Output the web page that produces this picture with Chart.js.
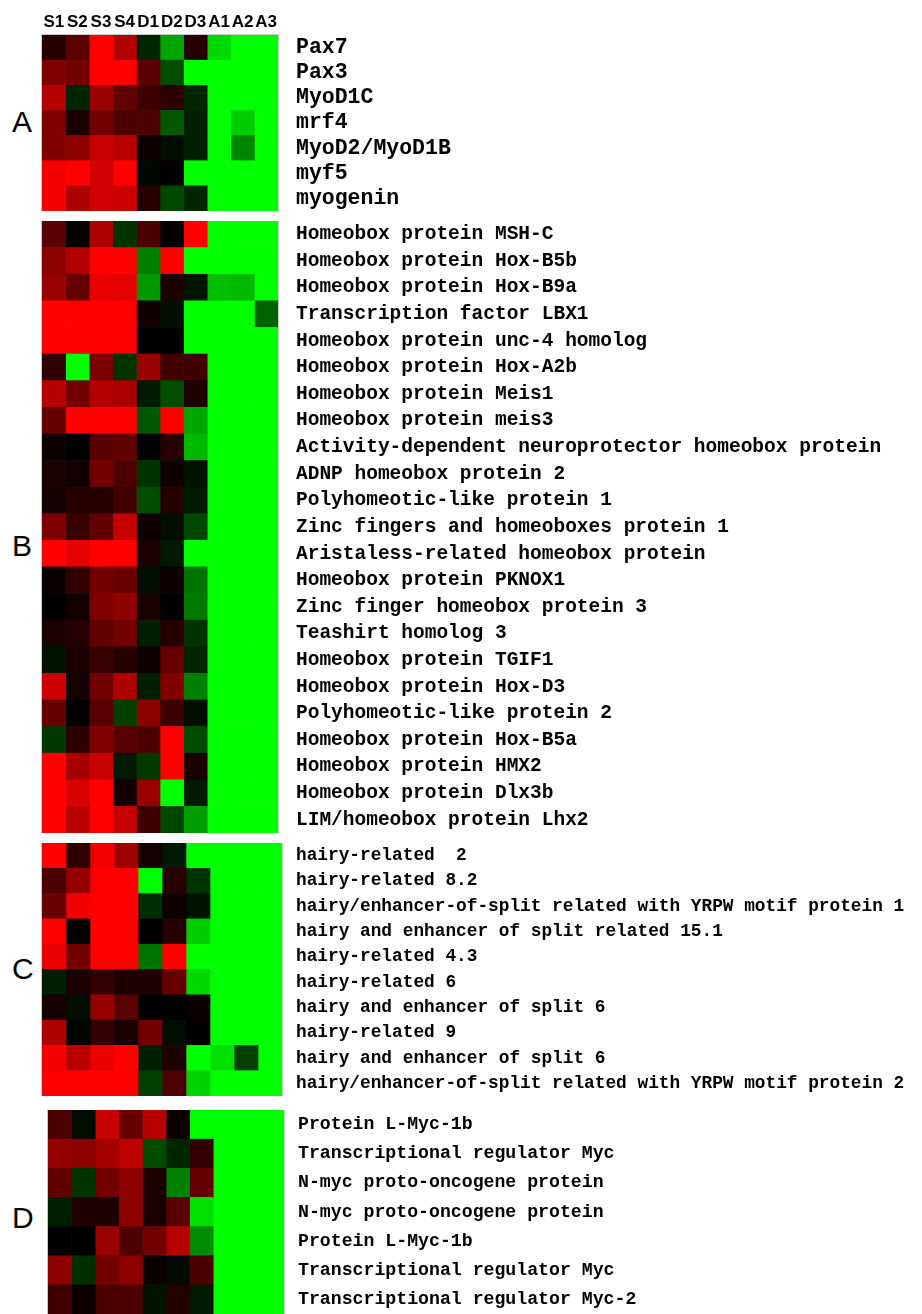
<!DOCTYPE html>
<html>
<head>
<meta charset="utf-8">
<script src="https://cdn.jsdelivr.net/npm/chart.js@4.4.1/dist/chart.umd.min.js"></script>
<style>
  body { margin: 0; background: #fff; width: 922px; height: 1314px; position: relative; overflow: hidden; }
  canvas { position: absolute; }
  .letter { position: absolute; left: 12px; font: 30px "Liberation Sans", Arial, sans-serif; line-height: 1; color: #000; }
</style>
</head>
<body>
<canvas id="panelA"></canvas>
<canvas id="panelB"></canvas>
<canvas id="panelC"></canvas>
<canvas id="panelD"></canvas>
<div class="letter" style="top:107px">A</div>
<div class="letter" style="top:531px">B</div>
<div class="letter" style="top:954px">C</div>
<div class="letter" style="top:1203px">D</div>

<script>
// columns of the heatmap
const columns = ["S1", "S2", "S3", "S4", "D1", "D2", "D3", "A1", "A2", "A3"];

// values: + = red (up), - = green (down), 0 = black
const genesA = ["Pax7", "Pax3", "MyoD1C", "mrf4", "MyoD2/MyoD1B", "myf5", "myogenin"];
const valuesA = [
  [0.15, 0.35, 1.0, 0.7, -0.15, -0.65, 0.15, -0.85, -1, -1],
  [0.5, 0.45, 1.0, 1.0, 0.35, -0.3, -1, -1, -1, -1],
  [0.7, -0.15, 0.6, 0.38, 0.25, 0.18, -0.15, -1, -1, -1],
  [0.5, 0.1, 0.45, 0.3, 0.3, -0.35, -0.12, -1, -0.8, -1],
  [0.5, 0.55, 0.78, 0.72, 0.05, -0.05, -0.12, -1, -0.52, -1],
  [0.95, 1.0, 0.82, 1.0, -0.03, 0.02, -1, -1, -1, -1],
  [0.95, 0.68, 0.82, 0.8, 0.15, -0.28, -0.15, -1, -1, -1]
];

const genesB = [
  "Homeobox protein MSH-C",
  "Homeobox protein Hox-B5b",
  "Homeobox protein Hox-B9a",
  "Transcription factor LBX1",
  "Homeobox protein unc-4 homolog",
  "Homeobox protein Hox-A2b",
  "Homeobox protein Meis1",
  "Homeobox protein meis3",
  "Activity-dependent neuroprotector homeobox protein",
  "ADNP homeobox protein 2",
  "Polyhomeotic-like protein 1",
  "Zinc fingers and homeoboxes protein 1",
  "Aristaless-related homeobox protein",
  "Homeobox protein PKNOX1",
  "Zinc finger homeobox protein 3",
  "Teashirt homolog 3",
  "Homeobox protein TGIF1",
  "Homeobox protein Hox-D3",
  "Polyhomeotic-like protein 2",
  "Homeobox protein Hox-B5a",
  "Homeobox protein HMX2",
  "Homeobox protein Dlx3b",
  "LIM/homeobox protein Lhx2"
];
const valuesB = [
  [0.35, 0.02, 0.68, -0.2, 0.3, 0.02, 1.0, -1, -1, -1],
  [0.55, 0.7, 1.0, 1.0, -0.5, 1.0, -1, -1, -1, -1],
  [0.6, 0.4, 0.92, 0.9, -0.6, 0.1, -0.08, -0.75, -0.72, -1],
  [1.0, 1.0, 1.0, 1.0, 0.07, -0.06, -1, -1, -1, -0.38],
  [1.0, 1.0, 1.0, 1.0, 0.01, 0.01, -1, -1, -1, -1],
  [0.2, -1, 0.48, -0.2, 0.6, 0.25, 0.25, -1, -1, -1],
  [0.72, 0.45, 0.7, 0.65, -0.1, -0.3, 0.12, -1, -1, -1],
  [0.4, 1.0, 1.0, 1.0, -0.35, 1.0, -0.65, -1, -1, -1],
  [0.05, 0.0, 0.35, 0.38, 0.0, 0.15, -0.72, -1, -1, -1],
  [0.1, 0.07, 0.45, 0.3, -0.2, 0.06, -0.07, -1, -1, -1],
  [0.08, 0.15, 0.15, 0.25, -0.3, 0.15, -0.1, -1, -1, -1],
  [0.5, 0.22, 0.38, 0.78, 0.05, -0.05, -0.28, -1, -1, -1],
  [1.0, 0.9, 1.0, 1.0, 0.1, -0.1, -1, -1, -1, -1],
  [0.03, 0.2, 0.45, 0.42, -0.05, 0.06, -0.45, -1, -1, -1],
  [0.01, 0.07, 0.5, 0.55, 0.1, 0.0, -0.48, -1, -1, -1],
  [0.1, 0.15, 0.38, 0.45, -0.12, 0.15, -0.2, -1, -1, -1],
  [-0.08, 0.1, 0.22, 0.15, 0.06, 0.4, -0.15, -1, -1, -1],
  [0.8, 0.08, 0.45, 0.68, -0.12, 0.5, -0.5, -1, -1, -1],
  [0.4, 0.02, 0.35, -0.25, 0.55, 0.22, -0.05, -1, -1, -1],
  [-0.22, 0.18, 0.5, 0.35, 0.3, 1.0, -0.3, -1, -1, -1],
  [1.0, 0.65, 0.78, -0.1, -0.22, 1.0, 0.1, -1, -1, -1],
  [1.0, 0.85, 1.0, 0.08, 0.6, -1, -0.1, -1, -1, -1],
  [1.0, 0.72, 1.0, 0.78, 0.25, -0.28, -0.62, -1, -1, -1]
];

const genesC = [
  "hairy-related  2",
  "hairy-related 8.2",
  "hairy/enhancer-of-split related with YRPW motif protein 1",
  "hairy and enhancer of split related 15.1",
  "hairy-related 4.3",
  "hairy-related 6",
  "hairy and enhancer of split 6",
  "hairy-related 9",
  "hairy and enhancer of split 6",
  "hairy/enhancer-of-split related with YRPW motif protein 2"
];
const valuesC = [
  [1.0, 0.18, 0.95, 0.62, 0.08, -0.1, -1, -1, -1, -1],
  [0.3, 0.58, 1.0, 1.0, -1, 0.15, -0.2, -1, -1, -1],
  [0.42, 0.95, 1.0, 1.0, -0.18, 0.06, -0.07, -1, -1, -1],
  [1.0, 0.0, 1.0, 1.0, 0.0, 0.15, -0.8, -1, -1, -1],
  [0.92, 0.45, 1.0, 1.0, -0.45, 1.0, -1, -1, -1, -1],
  [-0.12, 0.1, 0.2, 0.12, 0.12, 0.4, -0.85, -1, -1, -1],
  [0.08, -0.05, 0.58, 0.35, 0.0, 0.0, 0.04, -1, -1, -1],
  [0.68, -0.02, 0.2, 0.1, 0.45, -0.05, 0.02, -1, -1, -1],
  [0.95, 0.72, 0.92, 1.0, -0.12, 0.12, -1, -0.88, -0.25, -1],
  [1.0, 1.0, 1.0, 1.0, -0.25, 0.3, -0.82, -1, -1, -1]
];

const genesD = [
  "Protein L-Myc-1b",
  "Transcriptional regulator Myc",
  "N-myc proto-oncogene protein",
  "N-myc proto-oncogene protein",
  "Protein L-Myc-1b",
  "Transcriptional regulator Myc",
  "Transcriptional regulator Myc-2"
];
const valuesD = [
  [0.3, -0.05, 0.78, 0.4, 0.72, 0.05, -1, -1, -1, -1],
  [0.58, 0.55, 0.65, 0.75, -0.3, -0.15, 0.2, -1, -1, -1],
  [0.38, -0.2, 0.45, 0.55, 0.1, -0.5, 0.4, -1, -1, -1],
  [-0.12, 0.12, 0.12, 0.55, 0.1, 0.35, -0.88, -1, -1, -1],
  [0.0, 0.0, 0.6, 0.3, 0.45, 0.72, -0.55, -1, -1, -1],
  [0.55, -0.18, 0.45, 0.55, 0.04, -0.04, 0.3, -1, -1, -1],
  [0.25, 0.05, 0.3, 0.3, -0.08, 0.15, -0.1, -1, -1, -1]
];

function cellColor(v) {
  const k = Math.round(Math.abs(v) * 255);
  return v >= 0 ? `rgb(${k},0,0)` : `rgb(0,${k},0)`;
}

// thin grey frame around each block
const panelFrame = {
  id: "panelFrame",
  afterDatasetsDraw(chart) {
    const { ctx, chartArea: a } = chart;
    ctx.save();
    ctx.strokeStyle = "#c8c8c8";
    ctx.lineWidth = 1;
    ctx.strokeRect(a.left - 0.5, a.top - 0.5, a.width + 1, a.height + 1);
    ctx.restore();
  }
};

function makePanel(id, genes, values, p) {
  const canvas = document.getElementById(id);
  canvas.width = p.width;
  canvas.height = p.height;
  canvas.style.left = p.left + "px";
  canvas.style.top = p.top + "px";

  const datasets = columns.map((col, c) => ({
    label: col,
    data: genes.map(() => [c, c + 1]),
    backgroundColor: values.map((row) => cellColor(row[c])),
    borderWidth: 0,
    barPercentage: 1,
    categoryPercentage: 1,
    grouped: false
  }));

  new Chart(canvas, {
    type: "bar",
    data: { labels: genes, datasets },
    plugins: [panelFrame],
    options: {
      indexAxis: "y",
      responsive: false,
      animation: false,
      layout: { padding: { left: 1 } },
      plugins: { legend: { display: false }, tooltip: { enabled: false } },
      scales: {
        x: {
          type: "linear",
          min: 0,
          max: columns.length,
          position: "top",
          display: !!p.header,
          grid: { display: false },
          border: { display: false },
          afterBuildTicks: (s) => {
            s.ticks = columns.map((_, i) => ({ value: i + 0.5 }));
          },
          afterFit: (s) => {
            s.height = p.header || 0;
            s.paddingLeft = 0;
            s.paddingRight = 0;
          },
          ticks: {
            autoSkip: false,
            maxRotation: 0,
            padding: -6,
            color: "#000",
            font: { family: '"Liberation Sans", Arial, sans-serif', size: 17, weight: "bold" },
            callback: (v) => columns[Math.floor(v)]
          }
        },
        y: {
          type: "category",
          position: "right",
          grid: { display: false, drawTicks: false },
          border: { display: false },
          afterFit: (s) => {
            s.width = p.width - 1 - p.mapW;
            s.paddingTop = 0;
            s.paddingBottom = 0;
          },
          ticks: {
            autoSkip: false,
            padding: p.gap,
            color: "#000",
            font: { family: '"Liberation Mono", "DejaVu Sans Mono", monospace', size: p.font, weight: "bold" }
          }
        }
      }
    }
  });
}

makePanel("panelA", genesA, valuesA, { left: 41, top: 0, width: 881, height: 211, mapW: 236, header: 35, gap: 18, font: 21.5 });
makePanel("panelB", genesB, valuesB, { left: 41, top: 221, width: 881, height: 612, mapW: 236, gap: 18, font: 19.5 });
makePanel("panelC", genesC, valuesC, { left: 41, top: 843, width: 881, height: 253, mapW: 240, gap: 14, font: 17.8 });
makePanel("panelD", genesD, valuesD, { left: 47, top: 1110, width: 875, height: 204, mapW: 236, gap: 14, font: 18.2 });
</script>
</body>
</html>
